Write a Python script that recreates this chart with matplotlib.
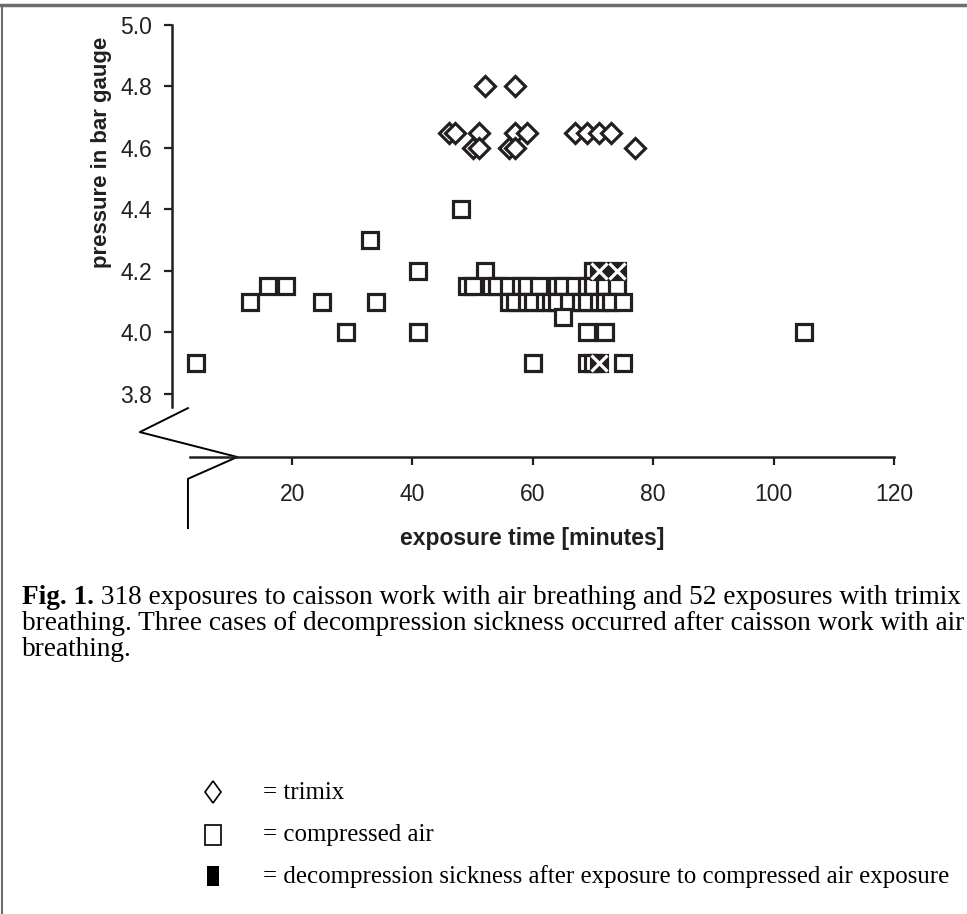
import matplotlib.pyplot as plt
from matplotlib.lines import Line2D
from matplotlib.patches import Rectangle, Polygon

# trimix exposures (minutes, bar gauge)
trimix_time = [52, 57, 46, 47, 51, 57, 59, 67, 69, 71, 73, 50, 51, 56, 57, 77]
trimix_pressure = [4.8, 4.8, 4.65, 4.65, 4.65, 4.65, 4.65, 4.65, 4.65, 4.65, 4.65,
                   4.6, 4.6, 4.6, 4.6, 4.6]

# compressed air exposures
air_time = [4, 13, 16, 19, 25, 29, 33, 34, 41, 41, 48, 52, 70,
            49, 50, 53, 54, 56, 58, 59, 61, 64, 65, 67, 69, 70, 72, 74,
            56, 57, 59, 60, 62, 63, 64, 66, 68, 69, 71, 72, 73, 75,
            65,
            69, 72, 105,
            60, 69, 70, 75]
air_pressure = [3.9, 4.1, 4.15, 4.15, 4.1, 4.0, 4.3, 4.1, 4.2, 4.0, 4.4, 4.2, 4.2,
                4.15, 4.15, 4.15, 4.15, 4.15, 4.15, 4.15, 4.15, 4.15, 4.15, 4.15, 4.15, 4.15, 4.15, 4.15,
                4.1, 4.1, 4.1, 4.1, 4.1, 4.1, 4.1, 4.1, 4.1, 4.1, 4.1, 4.1, 4.1, 4.1,
                4.05,
                4.0, 4.0, 4.0,
                3.9, 3.9, 3.9, 3.9]

# decompression sickness cases
dcs_time = [71, 74, 71]
dcs_pressure = [4.2, 4.2, 3.9]

x_ticks = [20, 40, 60, 80, 100, 120]
y_ticks = [3.8, 4.0, 4.2, 4.4, 4.6, 4.8, 5.0]

W, H = 967, 914
ink = '#231f20'


def px(x, y):
    # pixel position (from top left) -> figure fraction
    return x / W, 1 - y / H


fig = plt.figure(figsize=(W / 100, H / 100), dpi=100)
plt.rcParams['font.family'] = ['Liberation Sans', 'DejaVu Sans']

ax = fig.add_axes([171.7 / W, 1 - 457 / H, (894 - 171.7) / W, (457 - 25) / H])
ax.set_xlim(0, 120)
ax.set_ylim(3.595, 5.0)

ax.plot(air_time, air_pressure, linestyle='none', marker='s', ms=12, mew=2.3,
        mfc='white', mec=ink, clip_on=False, zorder=3)
ax.plot(trimix_time, trimix_pressure, linestyle='none', marker='D', ms=10.3, mew=2.3,
        mfc='white', mec=ink, clip_on=False, zorder=3)
ax.plot(dcs_time, dcs_pressure, linestyle='none', marker='s', ms=12, mew=2.3,
        mfc=ink, mec=ink, clip_on=False, zorder=4)
ax.plot(dcs_time, dcs_pressure, linestyle='none', marker='x', ms=12, mew=2.3,
        color='white', clip_on=False, zorder=5)

# axes with broken origin
for side in ['top', 'right']:
    ax.spines[side].set_visible(False)
ax.spines['left'].set_bounds(3.757, 5.0)
ax.spines['bottom'].set_bounds(3, 120)
for side in ['left', 'bottom']:
    ax.spines[side].set_linewidth(1.8)
    ax.spines[side].set_color(ink)

ax.set_xticks(x_ticks)
ax.set_yticks(y_ticks)
ax.set_yticklabels([f'{v:.1f}' for v in y_ticks])
ax.tick_params(axis='both', direction='out', length=6, width=1.6, color=ink,
               labelsize=16.5, labelcolor=ink)
ax.tick_params(axis='x', pad=13)
ax.tick_params(axis='y', pad=8)

# zigzag break marks
zig_x = [2.7, -5.3, 10.9, 2.7, 2.7]
zig_y = [3.754, 3.676, 3.595, 3.524, 3.364]
ax.plot(zig_x, zig_y, color='black', lw=1.4, clip_on=False)

fig.text(*px(532, 538), 'exposure time [minutes]', ha='center', va='center',
         fontsize=16.5, fontweight='bold', color=ink)
fig.text(*px(101, 152), 'pressure in bar gauge', ha='center', va='center',
         rotation=90, fontsize=16, fontweight='bold', color=ink)

# caption
serif = ['Liberation Serif', 'DejaVu Serif']
cap_size = 19.6
fig_lbl = fig.text(*px(22, 597), 'Fig. 1.', fontsize=cap_size, family=serif,
                   va='center', fontweight='bold')
renderer = fig.canvas.get_renderer()
lbl_right = fig_lbl.get_window_extent(renderer).x1 / W
fig.text(lbl_right, 1 - 597 / H,
         ' 318 exposures to caisson work with air breathing and 52 exposures with trimix',
         fontsize=cap_size, family=serif, va='center')
fig.text(*px(22, 623), 'breathing. Three cases of decompression sickness occurred after caisson work with air',
         fontsize=cap_size, family=serif, va='center')
fig.text(*px(22, 649), 'breathing.', fontsize=cap_size, family=serif, va='center')

# legend
fig.add_artist(Polygon([px(213, 781), px(221, 792), px(213, 803), px(205, 792)],
                       closed=True, transform=fig.transFigure, fill=False,
                       edgecolor='black', lw=1.2))
x0, y0 = px(205, 845)
fig.add_artist(Rectangle((x0, y0), 16 / W, 20 / H, transform=fig.transFigure,
                         fill=False, edgecolor='black', lw=1.2))
x0, y0 = px(207, 886)
fig.add_artist(Rectangle((x0, y0), 12 / W, 20 / H, transform=fig.transFigure,
                         facecolor='black', edgecolor='black', lw=0))
leg_size = 17.9
fig.text(*px(263, 793), '= trimix', fontsize=leg_size, family=serif, va='center')
fig.text(*px(263, 835), '= compressed air', fontsize=leg_size, family=serif, va='center')
fig.text(*px(263, 877), '= decompression sickness after exposure to compressed air exposure',
         fontsize=leg_size, family=serif, va='center')

# outer frame (top and left)
fig.add_artist(Line2D([0, 1], [1 - 5 / H, 1 - 5 / H], transform=fig.transFigure,
                      color='#6d6d6d', lw=2.5))
fig.add_artist(Line2D([1.5 / W, 1.5 / W], [0, 1 - 5 / H], transform=fig.transFigure,
                      color='#6d6d6d', lw=1.5))

fig.savefig('out.png', dpi=100)
